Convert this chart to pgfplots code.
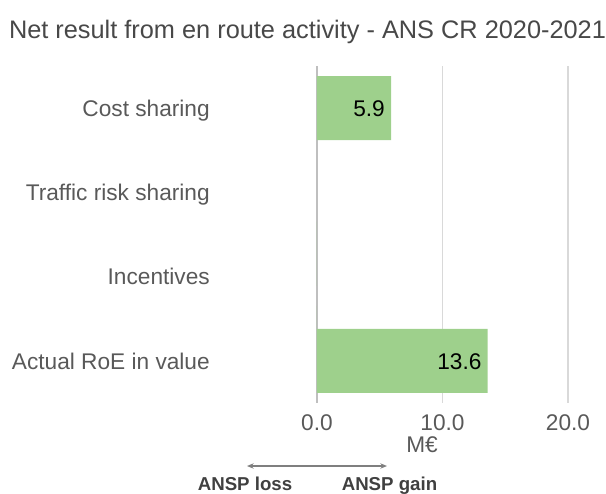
\documentclass[border=0pt]{standalone}
\usepackage{pgfplots}
\pgfplotsset{compat=1.18}
\usepackage{fontspec}
\setmainfont{Liberation Sans}
\usetikzlibrary{arrows.meta,calc}
\definecolor{barG}{RGB}{158,208,140}
\definecolor{txt}{RGB}{89,89,89}
\definecolor{ttl}{RGB}{72,72,72}
\definecolor{dark}{RGB}{64,64,64}
\definecolor{gridL}{RGB}{217,217,217}
\definecolor{gridZ}{RGB}{191,191,191}
\definecolor{arr}{RGB}{127,127,127}
\begin{document}
\begin{tikzpicture}[x=0.75pt,y=-0.75pt]
\begin{axis}[
  scale only axis, width=188.25pt, height=252.75pt,
  xbar, bar width=0.76,
  xmin=0, xmax=20, ymin=-0.5, ymax=3.5, y dir=reverse,
  axis line style={draw=none},
  major tick length=0pt,
  xtick={0,10,20}, xticklabels={0.0,10.0,20.0},
  ytick={0,1,2,3},
  yticklabels={Cost sharing,Traffic risk sharing,Incentives,Actual RoE in value},
  xmajorgrids, grid style={gridL, line width=1.1pt},
  xticklabel style={font=\fontsize{17}{20}\selectfont, text=txt, anchor=base, yshift=-20.4pt},
  yticklabel style={font=\fontsize{17}{20}\selectfont, text=txt, anchor=base east, inner sep=0pt, xshift=-80.25pt, yshift=-6.2pt},
  nodes near coords, point meta=explicit symbolic,
  every node near coord/.append style={font=\fontsize{17}{20}\selectfont, text=black, anchor=base east, inner sep=0pt, xshift=-4.5pt, yshift=-6.2pt},
  extra x ticks={0}, extra x tick labels={},
  extra x tick style={grid style={gridZ, line width=1.5pt}},
  clip=false,
]
\addplot[fill=barG, draw=none] coordinates {(5.9,0) [5.9] (13.6,3) [13.6]};
\addplot[fill=barG, draw=none, nodes near coords={}, forget plot] coordinates {(0,1) (0,2)};
\coordinate (P0) at (axis cs:0,-0.5);
\end{axis}
\begin{scope}[shift={($(P0)+(-317,-66)$)}]
\path[use as bounding box] (0,0) rectangle (606,493);
\node[anchor=base, text=ttl, font=\fontsize{19}{22}\selectfont] at (307.5,39) {Net result from en route activity - ANS CR 2020-2021};
\node[anchor=base, text=txt, font=\fontsize{17}{20}\selectfont] at (422,452) {M€};
\draw[arr, line width=1.5, {Stealth[length=5pt,width=4pt]}-{Stealth[length=5pt,width=4pt]}] (247,466) -- (387,466);
\node[anchor=base, text=dark, font=\bfseries\fontsize{14}{16}\selectfont] at (245,490) {ANSP loss};
\node[anchor=base, text=dark, font=\bfseries\fontsize{14}{16}\selectfont] at (389.5,490) {ANSP gain};
\end{scope}
\end{tikzpicture}
\end{document}
